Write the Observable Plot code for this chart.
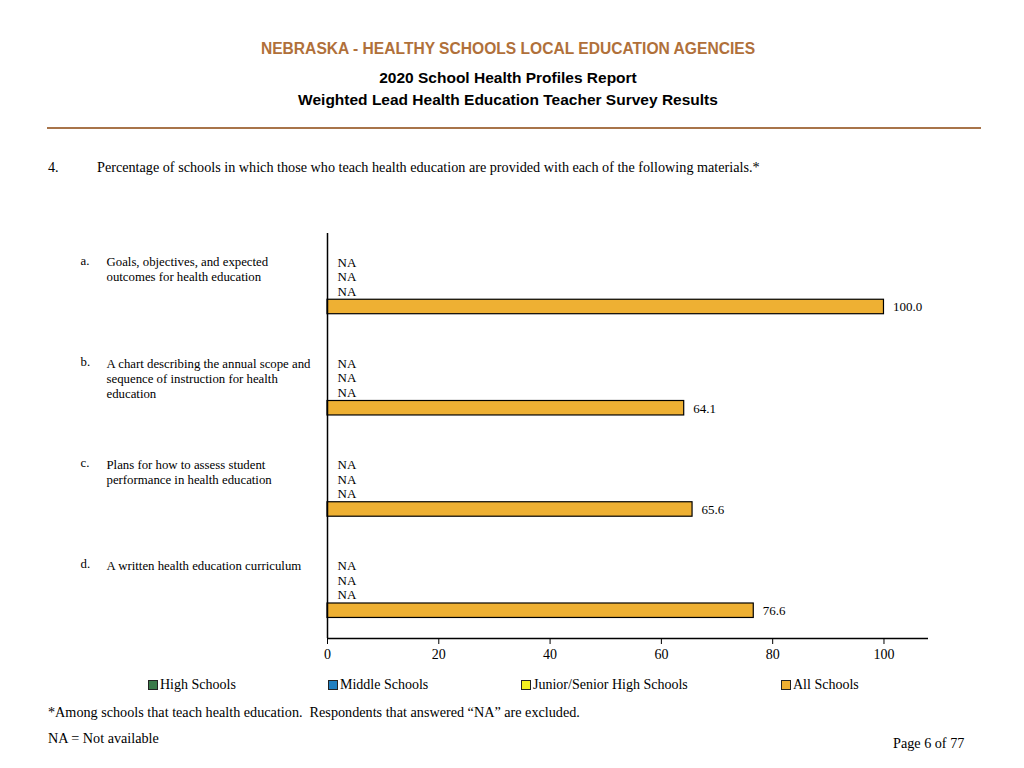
<!DOCTYPE html>
<html><head><meta charset="utf-8">
<script src="https://cdn.jsdelivr.net/npm/d3@7"></script>
<script src="https://cdn.jsdelivr.net/npm/@observablehq/plot@0.6"></script>
<style>
body{margin:0;background:#fff;width:1024px;height:768px;position:relative;overflow:hidden;font-family:"Liberation Serif","Times New Roman",serif;}
.abs{position:absolute;white-space:nowrap;}
.t1{font-family:"Liberation Sans",Arial,sans-serif;font-weight:bold;color:#b0703a;font-size:15.6px;left:0;width:1016px;text-align:center;top:40px;}
.t2{font-family:"Liberation Sans",Arial,sans-serif;font-weight:bold;color:#000;font-size:15.5px;left:0;width:1016px;text-align:center;}
.rule{position:absolute;left:47px;top:127px;width:934px;height:2px;background:#a8744a;}
.q{font-size:14.2px;top:159px;}
.leg{font-size:14px;top:677px;display:flex;align-items:center;}
.sw{display:inline-block;width:8px;height:8px;border:1px solid #222;margin-right:2px;}
.foot{font-size:14.2px;}
#chart{position:absolute;left:0;top:200px;}
</style></head>
<body>
<div class="abs t1">NEBRASKA - HEALTHY SCHOOLS LOCAL EDUCATION AGENCIES</div>
<div class="abs t2" style="top:69px">2020 School Health Profiles Report</div>
<div class="abs t2" style="top:91px">Weighted Lead Health Education Teacher Survey Results</div>
<div class="rule"></div>
<div class="abs q" style="left:48px">4.</div>
<div class="abs q" style="left:97px">Percentage of schools in which those who teach health education are provided with each of the following materials.*</div>
<div id="chart"></div>
<div id="legend"></div>
<div class="abs foot" style="left:48px;top:704px">*Among schools that teach health education.&nbsp; Respondents that answered “NA” are excluded.</div>
<div class="abs foot" style="left:48px;top:730px">NA = Not available</div>
<div class="abs foot" style="left:893px;top:735px">Page 6 of 77</div>
<script>
const letters = ["a.", "b.", "c.", "d."];
const categories = [
  "Goals, objectives, and expected\noutcomes for health education",
  "A chart describing the annual scope and\nsequence of instruction for health\neducation",
  "Plans for how to assess student\nperformance in health education",
  "A written health education curriculum"
];
const seriesNames = ["High Schools", "Middle Schools", "Junior/Senior High Schools", "All Schools"];
const seriesColors = ["#3a7a4a", "#1f7fc1", "#f2f020", "#eeb033"];
const highSchools = [null, null, null, null];
const middleSchools = [null, null, null, null];
const juniorSenior = [null, null, null, null];
const allSchools = [100.0, 64.1, 65.6, 76.6];
const xTicks = [0, 20, 40, 60, 80, 100];
const legendLeft = [148, 328, 521, 781];

const seriesValues = [highSchools, middleSchools, juniorSenior, allSchools];
const STEP = 7; // rows per category slot
const rows = [];
categories.forEach((c, i) => {
  seriesValues.forEach((vals, j) => {
    rows.push({cat: i, series: seriesNames[j], color: seriesColors[j], value: vals[i], pos: i * STEP + j});
  });
});
const catRows = categories.map((c, i) => ({letter: letters[i], label: c, pos: i * STEP}));
const yDomain = [-2, (categories.length - 1) * STEP + 5];

const serif = "Liberation Serif, Times New Roman, serif";
const chart = Plot.plot({
  width: 1024,
  height: 480,
  marginLeft: 327,
  marginRight: 96,
  marginTop: 33,
  marginBottom: 42,
  style: {fontFamily: serif, fontSize: "14px", background: "white", color: "#000"},
  x: {domain: [0, 108], ticks: xTicks, tickSize: 6, tickPadding: 5, label: null, tickFormat: d => d},
  y: {domain: yDomain, reverse: true, axis: null},
  marks: [
    Plot.rectX(rows.filter(d => d.value != null), {
      x1: 0, x2: "value", y1: d => d.pos - 0.42, y2: d => d.pos + 0.58,
      fill: d => d.color, stroke: "#000", strokeWidth: 1.2
    }),
    Plot.text(rows.filter(d => d.value == null), {
      x: 0, y: "pos", text: () => "NA", textAnchor: "start", dx: 10, fontSize: 13
    }),
    Plot.text(rows.filter(d => d.value != null), {
      x: "value", y: "pos", text: d => d.value.toFixed(1), textAnchor: "start", dx: 9, dy: 1.5, fontSize: 13
    }),
    Plot.ruleX([0], {strokeWidth: 1.5}),
    Plot.ruleY([yDomain[1]], {strokeWidth: 1.5}),
    Plot.text(catRows, {x: 0, y: "pos", text: "letter", textAnchor: "start", lineAnchor: "top", dx: -247, dy: -7, fontSize: 12.8}),
    Plot.text(catRows, {x: 0, y: "pos", text: "label", textAnchor: "start", lineAnchor: "top", dx: -221, dy: -7, fontSize: 12.8, lineHeight: 1.19})
  ]
});
document.getElementById("chart").appendChild(chart);

const leg = document.getElementById("legend");
seriesNames.forEach((s, j) => {
  const el = document.createElement("div");
  el.className = "abs leg";
  el.style.left = legendLeft[j] + "px";
  el.innerHTML = `<span class="sw" style="background:${seriesColors[j]}"></span>${s}`;
  leg.appendChild(el);
});
</script>
</body></html>
